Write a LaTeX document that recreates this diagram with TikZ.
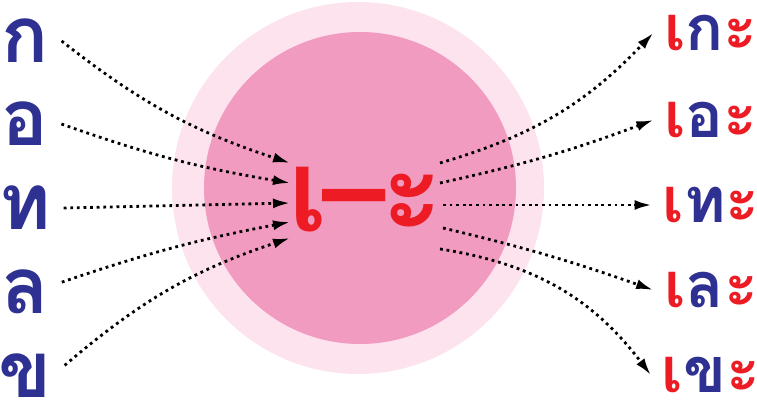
\documentclass[tikz,border=0pt]{standalone}
\usepackage{fontspec}
\newfontfamily\thaifont[Script=Thai]{Loma}
\usetikzlibrary{arrows.meta}

\definecolor{thaiblue}{HTML}{2E3192}
\definecolor{thaired}{HTML}{ED1C24}
\definecolor{ringpink}{HTML}{FCE3EE}
\definecolor{discpink}{HTML}{F29BC1}

\newcommand{\redpart}[1]{\textcolor{thaired}{#1}}
\newcommand{\bluepart}[1]{\textcolor{thaiblue}{#1}}

\begin{document}
\begin{tikzpicture}[x=1pt, y=-1pt,
  cons/.style={inner sep=0pt, outer sep=13pt, text=thaiblue,
    font=\thaifont\bfseries\fontsize{78}{78}\selectfont},
  word/.style={inner sep=0pt, outer sep=11pt,
    font=\thaifont\bfseries\fontsize{63}{63}\selectfont},
  vowel/.style={inner sep=0pt, text=thaired,
    font=\thaifont\bfseries\fontsize{115}{115}\selectfont},
  link/.style={-{Latex[length=17pt,width=10pt]}, line width=2.8pt,
    dash pattern=on 2.8pt off 3.8pt}
]
\useasboundingbox (0,0) rectangle (757,404);

% background disc
\fill[ringpink] (358,188) circle (186pt);
\fill[discpink] (360,188) circle (156pt);

% consonants
\node[cons] (c1) at (25,41)  {ก};
\node[cons] (c2) at (25,124) {อ};
\node[cons] (c3) at (25,208) {ท};
\node[cons] (c4) at (25,292) {ล};
\node[cons] (c5) at (25,376) {ข};

% vowel form
\node[vowel] (v) at (366,200) {เ\kern-6pt–\kern-4ptะ};

% words
\node[word] (w1) at (711,33)  {\redpart{เ}\bluepart{ก}\redpart{ะ}};
\node[word] (w2) at (711,120) {\redpart{เ}\bluepart{อ}\redpart{ะ}};
\node[word] (w3) at (711,205) {\redpart{เ}\bluepart{ท}\redpart{ะ}};
\node[word] (w4) at (711,290) {\redpart{เ}\bluepart{ล}\redpart{ะ}};
\node[word] (w5) at (711,375) {\redpart{เ}\bluepart{ข}\redpart{ะ}};

% arrow ends
\coordinate (in1) at (290,163);
\coordinate (in2) at (290,183);
\coordinate (in3) at (290,203);
\coordinate (in4) at (290,222);
\coordinate (in5) at (290,238);

\coordinate (out1) at (440,163);
\coordinate (out2) at (440,183);
\coordinate (out3) at (443,205);
\coordinate (out4) at (443,228);
\coordinate (out5) at (440,249);

% arrows in
\draw[link] (c1.east) to[bend right=10] (in1);
\draw[link] (c2.east) to[bend right=5] (in2);
\draw[link] (c3.east) -- (in3);
\draw[link] (c4.15) to[bend left=4] (in4);
\draw[link] (c5.15) to[bend left=11] (in5);

% arrows out
\draw[link] (out1) to[bend right=15] (w1.west);
\draw[link] (out2) to[bend right=4] (w2.west);
\draw[link] (out3) -- (w3.west);
\draw[link] (out4) to[bend left=3] (w4.west);
\draw[link] (out5) to[bend left=22] (w5.west);

\end{tikzpicture}
\end{document}
